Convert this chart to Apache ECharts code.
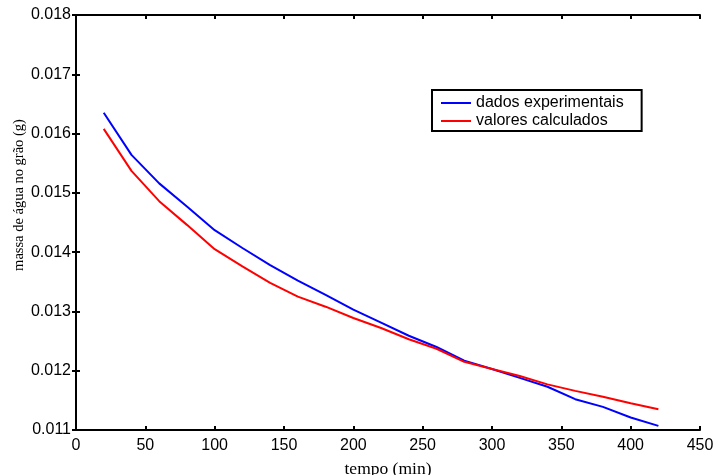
<!DOCTYPE html>
<html>
<head>
<meta charset="utf-8">
<script src="https://cdn.jsdelivr.net/npm/echarts@6/dist/echarts.min.js"></script>
<style>html,body{margin:0;padding:0;background:#fff}#c{width:717px;height:475px}</style>
</head>
<body>
<div id="c"></div>
<script>
const tempo = [20,40,60,80,100,120,140,160,180,200,220,240,260,280,300,320,340,360,380,400,420];
const dadosExperimentais = [0.01635,0.01564,0.01516,0.01477,0.01437,0.01407,0.01378,0.01352,0.01328,0.01303,0.01281,0.01259,0.01240,0.01217,0.01203,0.01188,0.01173,0.01152,0.01139,0.01121,0.01107];
const valoresCalculados = [0.01608,0.01537,0.01486,0.01446,0.01405,0.01376,0.01348,0.01325,0.01308,0.01289,0.01272,0.01253,0.01237,0.01215,0.01203,0.01191,0.01177,0.01166,0.01156,0.01145,0.01135];
const seriesNames = ['dados experimentais','valores calculados'];

const chart = echarts.init(document.getElementById('c'));
const tickStyle = {show:true, inside:true, length:4, lineStyle:{color:'#000', width:2}};
const lineStyle = {show:true, lineStyle:{color:'#000', width:2}};
const labelStyle = {color:'#000', fontFamily:'Liberation Sans', fontSize:16};
chart.setOption({
  animation:false,
  grid:{left:76, right:17, top:15, bottom:45, show:false, containLabel:false, outerBoundsMode:'none'},
  legend:{
    left:432, top:90, orient:'vertical',
    data:seriesNames,
    icon:'rect', itemWidth:30, itemHeight:2, itemGap:2,
    borderColor:'#000', borderWidth:2, backgroundColor:'#fff',
    padding:[5,18,2,9],
    textStyle:{color:'#000', fontFamily:'Liberation Sans', fontSize:16, lineHeight:16}
  },
  xAxis:[{
    type:'value', min:0, max:450, interval:50, position:'bottom',
    axisLine:lineStyle, axisTick:tickStyle, splitLine:{show:false},
    axisLabel:Object.assign({margin:8}, labelStyle),
    name:'tempo (min)', nameLocation:'middle', nameGap:30, nameMoveOverlap:false,
    nameTextStyle:{color:'#000', fontFamily:'Liberation Serif', fontSize:17.5}
  },{
    type:'value', min:0, max:450, interval:50, position:'top',
    axisLine:lineStyle, axisTick:tickStyle, splitLine:{show:false}, axisLabel:{show:false}
  }],
  yAxis:[{
    type:'value', min:0.011, max:0.018, interval:0.001, position:'left',
    axisLine:lineStyle, axisTick:tickStyle, splitLine:{show:false},
    axisLabel:Object.assign({margin:5, formatter:v=>v.toFixed(3)}, labelStyle),
    name:'massa de água no grão (g)', nameLocation:'middle', nameGap:49, nameMoveOverlap:false,
    nameTextStyle:{color:'#000', fontFamily:'Liberation Serif', fontSize:14.5, padding:[0,0,0,55]}
  },{
    type:'value', min:0.011, max:0.018, interval:0.001, position:'right',
    axisLine:lineStyle, axisTick:tickStyle, splitLine:{show:false}, axisLabel:{show:false}
  }],
  series:[{
    name:seriesNames[0], type:'line', showSymbol:false, symbol:'none',
    data:tempo.map((t,i)=>[t,dadosExperimentais[i]]),
    lineStyle:{color:'#0000ff', width:2}, itemStyle:{color:'#0000ff'}
  },{
    name:seriesNames[1], type:'line', showSymbol:false, symbol:'none',
    data:tempo.map((t,i)=>[t,valoresCalculados[i]]),
    lineStyle:{color:'#ff0000', width:2}, itemStyle:{color:'#ff0000'}
  }]
});
</script>
</body>
</html>
